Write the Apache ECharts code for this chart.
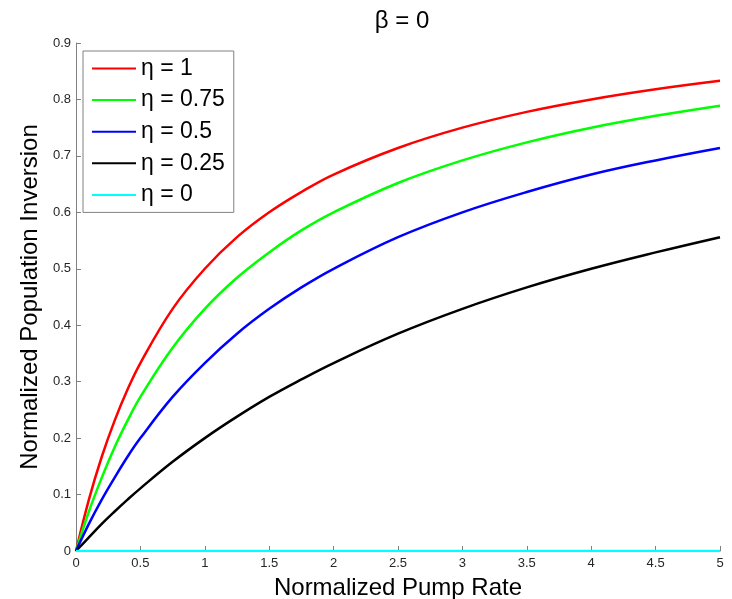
<!DOCTYPE html>
<html>
<head>
<meta charset="utf-8">
<script src="https://cdn.jsdelivr.net/npm/echarts@6/dist/echarts.min.js"></script>
<style>html,body{margin:0;padding:0;background:#fff;}#c{width:732px;height:599px;}</style>
</head>
<body>
<div id="c"></div>
<script>
const pumpRate = [0, 0.1, 0.2, 0.3, 0.4, 0.5, 0.75, 1, 1.25, 1.5, 1.75, 2, 2.5, 3, 3.5, 4, 4.5, 5];
const eta1    = [0, 0.091, 0.167, 0.231, 0.286, 0.333, 0.429, 0.500, 0.556, 0.600, 0.636, 0.667, 0.714, 0.750, 0.778, 0.800, 0.818, 0.833];
const eta075  = [0, 0.070, 0.130, 0.184, 0.231, 0.273, 0.360, 0.429, 0.484, 0.529, 0.568, 0.600, 0.652, 0.692, 0.724, 0.750, 0.771, 0.789];
const eta05   = [0, 0.048, 0.091, 0.130, 0.167, 0.200, 0.273, 0.333, 0.385, 0.429, 0.467, 0.500, 0.556, 0.600, 0.636, 0.667, 0.692, 0.714];
const eta025  = [0, 0.024, 0.048, 0.070, 0.091, 0.111, 0.158, 0.200, 0.238, 0.273, 0.304, 0.333, 0.385, 0.429, 0.467, 0.500, 0.529, 0.556];
const eta0    = [0, 0, 0, 0, 0, 0, 0, 0, 0, 0, 0, 0, 0, 0, 0, 0, 0, 0];
const seriesNames = ['η = 1', 'η = 0.75', 'η = 0.5', 'η = 0.25', 'η = 0'];
const seriesColors = ['#ff0000', '#00ff00', '#0000ff', '#000000', '#00ffff'];
const seriesValues = [eta1, eta075, eta05, eta025, eta0];

const font = 'Liberation Sans, Arial, sans-serif';
const chart = echarts.init(document.getElementById('c'));
chart.setOption({
  animation: false,
  title: {
    text: 'β = 0', left: 397, top: 4, textAlign: 'center',
    textStyle: { fontFamily: font, fontSize: 24, fontWeight: 'normal', color: '#000' }
  },
  legend: {
    orient: 'vertical', left: 83, top: 51,
    data: seriesNames,
    itemWidth: 44, itemHeight: 14, itemGap: 8.6,
    padding: [6, 9, 6, 8],
    borderColor: '#808080', borderWidth: 1,
    backgroundColor: '#fff',
    textStyle: { fontFamily: font, fontSize: 23, color: '#000' },
    itemStyle: { opacity: 0 }
  },
  grid: { left: 76, right: 12, top: 43, bottom: 48, containLabel: false, outerBoundsMode: 'none' },
  xAxis: {
    type: 'value', min: 0, max: 5, interval: 0.5,
    name: 'Normalized Pump Rate', nameLocation: 'middle', nameGap: 25,
    nameTextStyle: { fontFamily: font, fontSize: 24, color: '#000' },
    axisLine: { lineStyle: { color: '#808080', width: 1 } },
    axisTick: { inside: true, length: 5, lineStyle: { color: '#808080' } },
    axisLabel: { fontFamily: font, fontSize: 13, color: '#262626', margin: 6 },
    splitLine: { show: false }
  },
  yAxis: {
    type: 'value', min: 0, max: 0.9, interval: 0.1,
    name: 'Normalized Population Inversion', nameLocation: 'middle', nameGap: 30,
    nameTextStyle: { fontFamily: font, fontSize: 24, color: '#000' },
    axisLine: { show: true, lineStyle: { color: '#808080', width: 1 } },
    axisTick: { show: true, inside: true, length: 5, lineStyle: { color: '#808080' } },
    axisLabel: { fontFamily: font, fontSize: 13, color: '#262626', margin: 5,
      formatter: v => (Math.round(v * 10) / 10).toString() },
    splitLine: { show: false }
  },
  series: seriesNames.map((n, i) => ({
    name: n, type: 'line', smooth: 0.4, symbol: 'none',
    data: pumpRate.map((x, j) => [x, seriesValues[i][j]]),
    lineStyle: { color: seriesColors[i], width: 2.5 },
    itemStyle: { color: seriesColors[i] },
    z: 3 + i
  }))
});
</script>
</body>
</html>
